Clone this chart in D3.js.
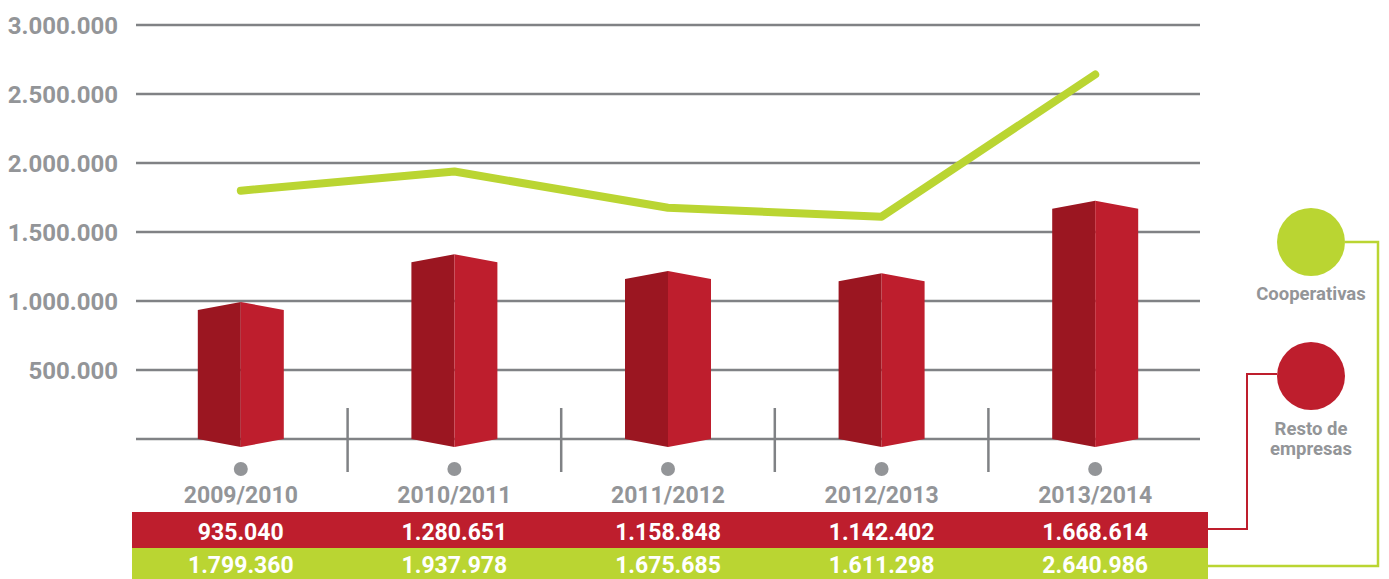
<!DOCTYPE html>
<html>
<head>
<meta charset="utf-8">
<script src="https://cdn.jsdelivr.net/npm/d3@7"></script>
<style>
  body { margin: 0; background: #fff; }
  svg text { font-family: Roboto, "Open Sans", sans-serif; font-weight: 700; }
</style>
</head>
<body>
<div id="chart"></div>
<script>
//// ============================ DATA ============================ ////
var seasons = ["2009/2010", "2010/2011", "2011/2012", "2012/2013", "2013/2014"];
var resto = [935040, 1280651, 1158848, 1142402, 1668614];
var cooperativas = [1799360, 1937978, 1675685, 1611298, 2640986];
var yTicks = [500000, 1000000, 1500000, 2000000, 2500000, 3000000];

//// ============================ LAYOUT ============================ ////
var width = 1389, height = 579;
var red = "#be1e2d", redDark = "#9b1621", green = "#bad532", gray = "#939598", gridGray = "#808285";

var svg = d3.select("#chart").append("svg")
    .attr("width", width)
    .attr("height", height);

var locale = d3.formatLocale({ decimal: ",", thousands: ".", grouping: [3], currency: ["", ""] });
var fmt = locale.format(",d");

var x = d3.scaleBand().domain(seasons).range([134, 1202]);
var y = d3.scaleLinear().domain([0, 3000000]).range([439, 25]);
var cx = function(d) { return x(d) + x.bandwidth() / 2; };
var half = 43, tip = 8;

// gridlines (including baseline)
svg.selectAll(".grid")
    .data([0].concat(yTicks))
    .enter().append("line")
    .attr("x1", 136).attr("x2", 1200)
    .attr("y1", function(d) { return y(d); })
    .attr("y2", function(d) { return y(d); })
    .attr("stroke", gridGray)
    .attr("stroke-width", 2.5);

svg.selectAll(".ytick")
    .data(yTicks)
    .enter().append("text")
    .attr("x", 118)
    .attr("y", function(d) { return y(d); })
    .attr("dy", "0.36em")
    .attr("text-anchor", "end")
    .attr("fill", gray)
    .style("font-size", "24px")
    .text(fmt);

// separators between seasons
svg.selectAll(".sep")
    .data(seasons.slice(1))
    .enter().append("line")
    .attr("x1", function(d) { return x(d); })
    .attr("x2", function(d) { return x(d); })
    .attr("y1", 408).attr("y2", 472)
    .attr("stroke", gridGray)
    .attr("stroke-width", 2.5);

//// ============================ BARS ============================ ////
var bars = svg.selectAll(".bar")
    .data(seasons.map(function(s, i) { return { s: s, v: resto[i] }; }))
    .enter().append("g");

bars.append("path")
    .attr("fill", redDark)
    .attr("d", function(d) {
        var c = cx(d.s), t = y(d.v), b = y(0);
        return "M" + (c - half) + "," + t + "L" + c + "," + (t - tip) +
            "L" + c + "," + (b + tip) + "L" + (c - half) + "," + b + "Z";
    });

bars.append("path")
    .attr("fill", red)
    .attr("d", function(d) {
        var c = cx(d.s), t = y(d.v), b = y(0);
        return "M" + c + "," + (t - tip) + "L" + (c + half) + "," + t +
            "L" + (c + half) + "," + b + "L" + c + "," + (b + tip) + "Z";
    });

//// ============================ LINE ============================ ////
var line = d3.line()
    .x(function(d, i) { return cx(seasons[i]); })
    .y(function(d) { return y(d); });

svg.append("path")
    .datum(cooperativas)
    .attr("d", line)
    .attr("fill", "none")
    .attr("stroke", green)
    .attr("stroke-width", 8)
    .attr("stroke-linecap", "round")
    .attr("stroke-linejoin", "round");

//// ============================ CATEGORY LABELS ============================ ////
svg.selectAll(".dot")
    .data(seasons)
    .enter().append("circle")
    .attr("cx", cx).attr("cy", 469).attr("r", 7)
    .attr("fill", gray);

svg.selectAll(".cat")
    .data(seasons)
    .enter().append("text")
    .attr("x", cx).attr("y", 503)
    .attr("text-anchor", "middle")
    .attr("fill", gray)
    .style("font-size", "23px")
    .text(function(d) { return d; });

//// ============================ TABLE ============================ ////
var rows = [{ vals: resto, color: red, y0: 512, y1: 548, base: 540 }, { vals: cooperativas, color: green, y0: 548, y1: 579, base: 573 }];

rows.forEach(function(r) {
    svg.append("rect")
        .attr("x", 132).attr("y", r.y0)
        .attr("width", 1208 - 132).attr("height", r.y1 - r.y0)
        .attr("fill", r.color);
    svg.selectAll(null)
        .data(r.vals)
        .enter().append("text")
        .attr("x", function(d, i) { return cx(seasons[i]); })
        .attr("y", r.base)
        .attr("text-anchor", "middle")
        .attr("fill", "#fff")
        .style("font-size", "23px")
        .text(fmt);
});

//// ============================ LEGEND ============================ ////
svg.append("polyline")
    .attr("points", "1345,242 1378,242 1378,566 1208,566")
    .attr("fill", "none").attr("stroke", green).attr("stroke-width", 2.5);
svg.append("polyline")
    .attr("points", "1277,374 1247,374 1247,529 1208,529")
    .attr("fill", "none").attr("stroke", red).attr("stroke-width", 2);

svg.append("circle").attr("cx", 1311).attr("cy", 242).attr("r", 34).attr("fill", green);
svg.append("circle").attr("cx", 1311).attr("cy", 376).attr("r", 34).attr("fill", red);

var legendText = [
    { t: "Cooperativas", y: 300 },
    { t: "Resto de", y: 435 },
    { t: "empresas", y: 455 }
];
svg.selectAll(".leg")
    .data(legendText)
    .enter().append("text")
    .attr("x", 1311).attr("y", function(d) { return d.y; })
    .attr("text-anchor", "middle")
    .attr("fill", gray)
    .style("font-size", "18.5px")
    .text(function(d) { return d.t; });
</script>
</body>
</html>
